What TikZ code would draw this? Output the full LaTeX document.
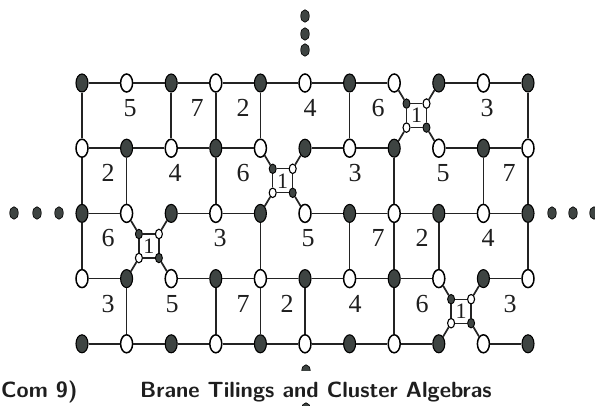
\documentclass[tikz,border=0pt]{standalone}
\usepackage{fontspec}
\newfontfamily\labfont{Liberation Serif}
\usetikzlibrary{shapes.geometric}
\definecolor{dotgray}{RGB}{62,68,66}
\definecolor{linegray}{RGB}{35,35,35}
\definecolor{textgray}{RGB}{30,30,30}
\begin{document}
\begin{tikzpicture}[x=1pt,y=-1pt,
  bnode/.style={ellipse,draw=black,fill=dotgray,line width=1.1pt,minimum width=12pt,minimum height=18pt,inner sep=0pt},
  wnode/.style={ellipse,draw=black,fill=white,line width=1.5pt,minimum width=12pt,minimum height=18pt,inner sep=0pt},
  bsmall/.style={ellipse,draw=black,fill=dotgray,line width=0.9pt,minimum width=7pt,minimum height=9.5pt,inner sep=0pt},
  wsmall/.style={ellipse,draw=black,fill=white,line width=1.1pt,minimum width=7pt,minimum height=9.5pt,inner sep=0pt},
  moredot/.style={ellipse,draw=black,fill=dotgray,line width=0.6pt,minimum width=8.5pt,minimum height=12.5pt,inner sep=0pt},
  edge/.style={draw=linegray,line width=1.7pt},
  sqedge/.style={draw=linegray,line width=1.3pt},
  lab/.style={font=\labfont\fontsize{26}{26}\selectfont,inner sep=0pt,text=textgray},
  sqlab/.style={font=\labfont\fontsize{22}{22}\selectfont,inner sep=0pt,text=textgray},
  hdr/.style={font=\sffamily\bfseries\fontsize{22}{26}\selectfont,inner sep=0pt,text=textgray}
  ]
\fill[white] (0,0) rectangle (595,406);
\useasboundingbox (0,0) rectangle (595,406);
% lattice nodes
\foreach \j in {0,...,4} {
  \foreach \i in {0,...,10} {
    \pgfmathtruncatemacro\pp{mod(\i+\j,2)}
    \ifnum\pp=0
      \node[bnode] (n-\i-\j) at ({82+44.6*\i},{83+65.2*\j}) {};
    \else
      \node[wnode] (n-\i-\j) at ({82+44.6*\i},{83+65.2*\j}) {};
    \fi
  }
}
% horizontal edges
\foreach \j/\lst in {0/{0,1,2,3,4,5,6,8,9},1/{0,1,2,3,5,6,8,9},2/{0,2,3,5,6,7,8,9},3/{0,2,3,4,5,6,7,9},4/{0,1,2,3,4,5,6,7,9}} {
  \foreach \i in \lst {
    \pgfmathtruncatemacro\k{\i+1}
    \draw[edge] (n-\i-\j) -- (n-\k-\j);
  }
}
% vertical edges
\foreach \j/\lst in {0/{0,2,3,4,6,10},1/{0,1,3,7,9,10},2/{0,4,6,7,8,10},3/{1,3,4,5,7}} {
  \foreach \i in \lst {
    \pgfmathtruncatemacro\k{\j+1}
    \draw[edge] (n-\i-\j) -- (n-\i-\k);
  }
}
% squares
\foreach \a/\b/\s in {7/0/A,4/1/B,1/2/C,8/3/D} {
  \pgfmathsetmacro\cx{82+44.6*(\a+0.5)}
  \pgfmathsetmacro\cy{83+65.2*(\b+0.5)}
  \pgfmathtruncatemacro\aa{\a+1}
  \pgfmathtruncatemacro\bb{\b+1}
  \node[bsmall] (s-\s-tl) at (\cx-10,\cy-12) {};
  \node[wsmall] (s-\s-tr) at (\cx+10,\cy-12) {};
  \node[wsmall] (s-\s-bl) at (\cx-10,\cy+12) {};
  \node[bsmall] (s-\s-br) at (\cx+10,\cy+12) {};
  \node[sqlab] (s-\s-lab) at (\cx,\cy) {1};
  \draw[sqedge] (s-\s-tl) -- (s-\s-tr);
  \draw[sqedge] (s-\s-tr) -- (s-\s-br);
  \draw[sqedge] (s-\s-br) -- (s-\s-bl);
  \draw[sqedge] (s-\s-bl) -- (s-\s-tl);
  \draw[edge] (n-\a-\b) -- (s-\s-tl);
  \draw[edge] (n-\aa-\b) -- (s-\s-tr);
  \draw[edge] (n-\a-\bb) -- (s-\s-bl);
  \draw[edge] (n-\aa-\bb) -- (s-\s-br);
}
% face labels
\foreach \t/\x [count=\k] in {5/130,7/197,2/243,4/310,6/378,3/487} \node[lab] (l-0-\k) at (\x,108) {\t};
\foreach \t/\x [count=\k] in {2/108,4/175,6/243,3/355,5/443,7/509} \node[lab] (l-1-\k) at (\x,173) {\t};
\foreach \t/\x [count=\k] in {6/108,3/220,5/308,7/378,2/422,4/488} \node[lab] (l-2-\k) at (\x,238) {\t};
\foreach \t/\x [count=\k] in {3/108,5/172,7/243,2/287,4/355,6/422,3/510} \node[lab] (l-3-\k) at (\x,304) {\t};
% continuation dots
\foreach \x [count=\k] in {14,37,59} \node[moredot] (dl-\k) at (\x,213) {};
\foreach \x [count=\k] in {552,573,594} \node[moredot] (dr-\k) at (\x,213) {};
\foreach \y [count=\k] in {16,34,50} \node[moredot] (dt-\k) at (305,\y) {};
\node[moredot] (db-1) at (306,371) {};
\node[moredot] (db-2) at (306,409) {};
\fill[white] (290,371.5) rectangle (322,402);
% running header
\node[hdr,anchor=base west] (hleft) at (1,397) {Com 9)};
\node[hdr,anchor=base west] (htitle) at (140,397) {Brane Tilings and Cluster Algebras};
\end{tikzpicture}
\end{document}
